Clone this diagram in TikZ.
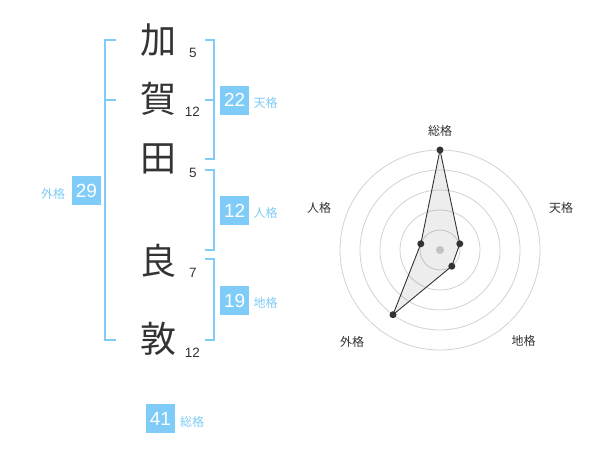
\documentclass[tikz,border=0pt]{standalone}
\usepackage{fontspec}
\setmainfont{Liberation Sans}
\newfontfamily\jp{Noto Sans CJK JP}
\definecolor{accent}{RGB}{128,204,248}
\definecolor{ink}{RGB}{51,51,51}
\definecolor{ringc}{RGB}{210,210,210}
\tikzset{
  kanji/.style={font=\jp\fontsize{36}{36}\selectfont, text=ink, inner sep=0pt},
  strokes/.style={font=\fontsize{13.5}{14}\selectfont, text=ink, inner sep=0pt},
  valbox/.style={fill=accent, text=white, font=\fontsize{19}{19}\selectfont, minimum width=29pt, minimum height=29pt, inner sep=0pt},
  vallabel/.style={font=\jp\fontsize{12}{12}\selectfont, text=accent, inner sep=0pt},
  brk/.style={draw=accent, line width=2pt},
  ring/.style={draw=ringc, line width=0.8pt},
  axlabel/.style={font=\jp\fontsize{12}{12}\selectfont, text=ink, inner sep=0pt},
  dot/.style={circle, fill=ink, minimum size=7pt, inner sep=0pt},
}
\begin{document}
\begin{tikzpicture}[x=1pt,y=-1pt]
\useasboundingbox[fill=white] (0,0) rectangle (600,470);
% name characters
\node[kanji] (k1) at (158.5,40) {加};
\node[kanji] (k2) at (158.5,99) {賀};
\node[kanji] (k3) at (158.5,159) {田};
\node[kanji] (k4) at (158.5,261) {良};
\node[kanji] (k5) at (158.5,339) {敦};
\node[strokes] (s1) at (193,52.5) {5};
\node[strokes] (s2) at (192.5,112) {12};
\node[strokes] (s3) at (193,172.5) {5};
\node[strokes] (s4) at (193,272.5) {7};
\node[strokes] (s5) at (192.5,352.5) {12};
% right brackets
\coordinate (t1) at (205,40);  \coordinate (t2) at (214,40);
\coordinate (t3) at (214,159.5); \coordinate (t4) at (205,159.5);
\coordinate (tm) at (205,100); \coordinate (tn) at (214,100);
\draw[brk] (t1) -- (t2) -- (t3) -- (t4);
\draw[brk] (tm) -- (tn);
\coordinate (j1) at (205,170); \coordinate (j2) at (214,170);
\coordinate (j3) at (214,250); \coordinate (j4) at (205,250);
\draw[brk] (j1) -- (j2) -- (j3) -- (j4);
\coordinate (c1) at (205,259.5); \coordinate (c2) at (214,259.5);
\coordinate (c3) at (214,340); \coordinate (c4) at (205,340);
\draw[brk] (c1) -- (c2) -- (c3) -- (c4);
% left bracket
\coordinate (g1) at (115.5,40); \coordinate (g2) at (105,40);
\coordinate (g3) at (105,340); \coordinate (g4) at (115.5,340);
\coordinate (gm) at (105,100); \coordinate (gn) at (115.5,100);
\draw[brk] (g1) -- (g2) -- (g3) -- (g4);
\draw[brk] (gm) -- (gn);
% value boxes
\node[valbox] (ten) at (234.7,100.3) {22};
\node[vallabel] (tenl) at (265.5,103) {天格};
\node[valbox] (jin) at (234.7,210.5) {12};
\node[vallabel] (jinl) at (265.5,213) {人格};
\node[valbox] (chi) at (234.7,300.5) {19};
\node[vallabel] (chil) at (265.5,303) {地格};
\node[valbox] (gai) at (86.5,190.5) {29};
\node[vallabel] (gail) at (53,193.5) {外格};
\node[valbox] (sou) at (160.5,418.5) {41};
\node[vallabel] (soul) at (192,422) {総格};
% radar chart
\coordinate (o) at (440,250);
\foreach \r in {20,40,60,80,100} \draw[ring] (o) circle (\r);
\node[circle, fill=ringc, minimum size=8pt, inner sep=0pt] (ctr) at (o) {};
\node[axlabel] (a1) at (440,130.5) {総格};
\node[axlabel] (a2) at (561,208) {天格};
\node[axlabel] (a3) at (523.5,341) {地格};
\node[axlabel] (a4) at (352,342) {外格};
\node[axlabel] (a5) at (319,208) {人格};
\coordinate (p1) at (440,150);
\coordinate (p2) at (459.8,243.8);
\coordinate (p3) at (451.8,266.2);
\coordinate (p4) at (393,314.7);
\coordinate (p5) at (420.8,243.8);
\draw[ink, line width=0.9pt, fill=black, fill opacity=0.07] (p1) -- (p2) -- (p3) -- (p4) -- (p5) -- cycle;
\foreach \i in {1,...,5} \node[dot] (d\i) at (p\i) {};
\end{tikzpicture}
\end{document}
